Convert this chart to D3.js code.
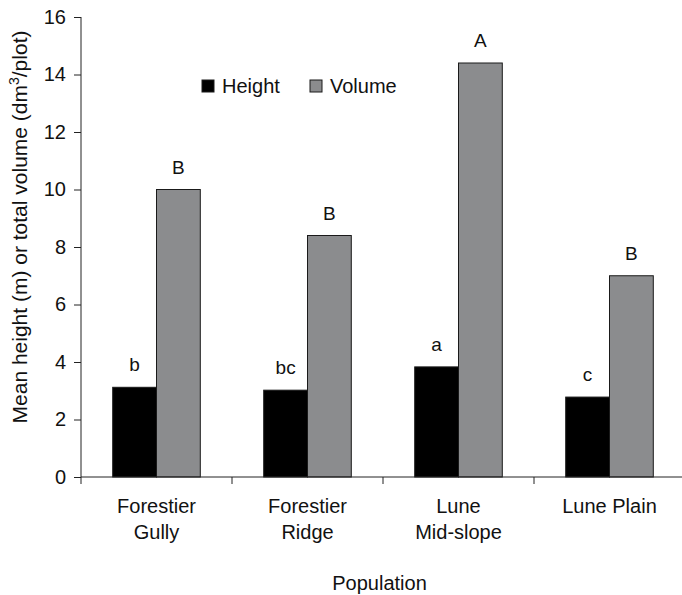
<!DOCTYPE html>
<html>
<head>
<meta charset="utf-8">
<script src="https://cdn.jsdelivr.net/npm/d3@7"></script>
<style>
  html, body { margin: 0; padding: 0; background: #fff; }
  svg { display: block; font-family: "Liberation Sans", Arial, sans-serif; }
</style>
</head>
<body>
<svg id="chart" width="682" height="595"></svg>
<script>
// Populations (two-line category labels)
const populations = ["Forestier Gully", "Forestier Ridge", "Lune Mid-slope", "Lune Plain"];
const categoryLines = [["Forestier", "Gully"], ["Forestier", "Ridge"], ["Lune", "Mid-slope"], ["Lune Plain"]];
const seriesNames = ["Height", "Volume"];
// Mean height (m) and total volume (dm3/plot)
const heightValues = [3.12, 3.02, 3.83, 2.78];
const volumeValues = [10.0, 8.4, 14.4, 7.0];
// Significance letters shown above each bar
const heightLetters = ["b", "bc", "a", "c"];
const volumeLetters = ["B", "B", "A", "B"];
const yTicks = [0, 2, 4, 6, 8, 10, 12, 14, 16];

const seriesColors = { Height: "#000000", Volume: "#8b8c8e" };

const svg = d3.select("#chart");
const margin = { left: 81, top: 17, right: -3, bottom: 118 };
const W = 682, H = 595;
const x0 = margin.left, x1 = W - margin.right;
const yTop = margin.top, yBottom = H - margin.bottom;

const x = d3.scaleBand().domain(populations).range([x0, x1]).paddingInner(0).paddingOuter(0);
const bw = x.bandwidth();
const xs = d3.scaleBand().domain(seriesNames).range([bw * 0.21, bw * 0.79]).padding(0);
const y = d3.scaleLinear().domain([0, 16]).range([yBottom, yTop]);

const rows = populations.map((p, i) => ({
  pop: p,
  values: [
    { s: "Height", v: heightValues[i], letter: heightLetters[i] },
    { s: "Volume", v: volumeValues[i], letter: volumeLetters[i] }
  ]
}));

// Bars
const groups = svg.append("g").selectAll("g").data(rows).join("g")
  .attr("transform", d => `translate(${x(d.pop)},0)`);

groups.selectAll("rect").data(d => d.values).join("rect")
  .attr("x", d => xs(d.s))
  .attr("y", d => y(d.v))
  .attr("width", xs.bandwidth())
  .attr("height", d => y(0) - y(d.v))
  .attr("fill", d => seriesColors[d.s])
  .attr("stroke", "#1a1a1a")
  .attr("stroke-width", 1);

groups.selectAll("text").data(d => d.values).join("text")
  .attr("x", d => xs(d.s) + xs.bandwidth() / 2)
  .attr("y", d => y(d.v) - 16)
  .attr("text-anchor", "middle")
  .attr("font-size", 19)
  .attr("fill", "#111")
  .text(d => d.letter);

// Y axis
const yAxis = d3.axisLeft(y).tickValues(yTicks).tickSize(7).tickPadding(8).tickFormat(d3.format("d"));
const gy = svg.append("g").attr("transform", `translate(${x0},0)`).call(yAxis);
gy.select(".domain").attr("d", `M0,${yTop}V${yBottom}`).attr("stroke", "#222");
gy.selectAll(".tick line").attr("stroke", "#222");
gy.selectAll(".tick text").attr("font-size", 20).attr("fill", "#111").attr("font-family", "Liberation Sans, Arial, sans-serif");

// X axis: boundary ticks between categories
const xAxisG = svg.append("g").attr("transform", `translate(0,${yBottom})`);
xAxisG.append("path").attr("d", `M${x0},0H${x1}`).attr("stroke", "#222").attr("fill", "none");
const boundaries = populations.map(p => x(p)).concat([x1]);
xAxisG.selectAll("line.bt").data(boundaries).join("line")
  .attr("class", "bt")
  .attr("x1", d => d).attr("x2", d => d)
  .attr("y1", 0).attr("y2", 7)
  .attr("stroke", "#222");

// Category labels
const labels = svg.append("g").selectAll("text").data(populations).join("text")
  .attr("text-anchor", "middle")
  .attr("font-size", 20)
  .attr("fill", "#111")
  .attr("transform", d => `translate(${x(d) + bw / 2},${yBottom + 36})`);
labels.each(function (d, i) {
  d3.select(this).selectAll("tspan").data(categoryLines[i]).join("tspan")
    .attr("x", 0)
    .attr("dy", (t, j) => j === 0 ? 0 : 26)
    .text(t => t);
});

// Axis titles
svg.append("text")
  .attr("x", (x0 + 682) / 2 - 2)
  .attr("y", 590)
  .attr("text-anchor", "middle")
  .attr("font-size", 20)
  .attr("fill", "#111")
  .text("Population");

const yTitle = svg.append("text")
  .attr("transform", "translate(27,227) rotate(-90)")
  .attr("text-anchor", "middle")
  .attr("font-size", 21)
  .attr("fill", "#111");
yTitle.append("tspan").text("Mean height (m) or total volume (dm");
yTitle.append("tspan").attr("font-size", 14).attr("dy", -8).text("3");
yTitle.append("tspan").attr("dy", 8).text("/plot)");

// Legend
const legend = svg.append("g").attr("transform", "translate(202,80)");
const legendX = [0, 108];
seriesNames.forEach((s, i) => {
  const g = legend.append("g").attr("transform", `translate(${legendX[i]},0)`);
  g.append("rect").attr("width", 12).attr("height", 12)
    .attr("fill", seriesColors[s]).attr("stroke", "#1a1a1a").attr("stroke-width", 1);
  g.append("text").attr("x", 20).attr("y", 12.5).attr("font-size", 20).attr("fill", "#111").text(s);
});
</script>
</body>
</html>
